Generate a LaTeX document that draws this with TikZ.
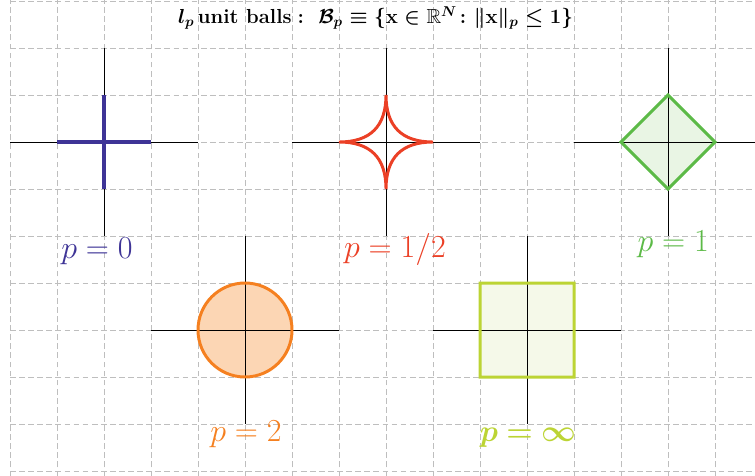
\RequirePackage{fix-cm}
\documentclass[tikz,border=0pt]{standalone}
\usepackage{amsmath,amssymb,bm}
\definecolor{czero}{RGB}{62,52,150}
\definecolor{chalf}{RGB}{235,64,38}
\definecolor{cone}{RGB}{92,186,71}
\definecolor{conefill}{RGB}{233,245,228}
\definecolor{ctwo}{RGB}{245,128,32}
\definecolor{ctwofill}{RGB}{252,214,180}
\definecolor{cinf}{RGB}{188,212,52}
\definecolor{cinffill}{RGB}{245,249,233}
\definecolor{gridgray}{RGB}{190,190,190}
\newsavebox{\ttlbox}
\begin{document}
\sbox{\ttlbox}{\fontsize{12.3}{15}\selectfont\boldmath$l_p$\,\textbf{unit balls}\,$\colon$ $\mathcal{B}_p \equiv \{\mathbf{x}\in\mathbb{R}^N\colon \Vert\mathbf{x}\Vert_p\le 1\}$}%
\begin{tikzpicture}[
  gridline/.style={draw=gridgray,line width=0.5pt,dash pattern=on 3.5pt off 2pt},
  axisline/.style={draw=black,line width=0.55pt},
  ballline/.style={line width=1.8pt,line join=miter},
  plabel/.style={anchor=base,font=\fontsize{19.4}{22}\selectfont,inner sep=0pt}
]
\def\hw{0.0318}
\useasboundingbox (-2.2128,-7.085) rectangle (13.851,3.0213);
\clip (-2.2128,-7.085) rectangle (13.851,3.0213);
\draw[gridline] (-2,-7.5) grid (14.5,3.5);

% p = 1/2
\begin{scope}[shift={(6,0)}]
\draw[axisline] (-2,0) -- (2,0);
\draw[axisline] (0,-2) -- (0,2);
\draw[ballline,chalf] (1,0) .. controls (1/3,0) and (0,1/3) .. (0,1)
  .. controls (0,1/3) and (-1/3,0) .. (-1,0)
  .. controls (-1/3,0) and (0,-1/3) .. (0,-1)
  .. controls (0,-1/3) and (1/3,0) .. (1,0);
\end{scope}
\node[plabel,text=chalf] (lhalf) at (6.19,-2.447) {$p=1/2$};

% p = 1
\begin{scope}[shift={(12,0)}]
\fill[conefill] (1,0) -- (0,1) -- (-1,0) -- (0,-1) -- cycle;
\draw[axisline] (-2,0) -- (2,0);
\draw[axisline] (0,-2) -- (0,2);
\draw[ballline,cone] (1,0) -- (0,1) -- (-1,0) -- (0,-1) -- cycle;
\end{scope}
\node[plabel,text=cone] (lone) at (12.11,-2.32) {$p=1$};

% p = 2
\begin{scope}[shift={(3,-4)}]
\fill[ctwofill] (0,0) circle (1);
\draw[axisline] (-2,0) -- (2,0);
\draw[axisline] (0,-2) -- (0,2);
\draw[ballline,ctwo] (0,0) circle (1);
\end{scope}
\node[plabel,text=ctwo] (ltwo) at (3.02,-6.38) {$p=2$};

% p = infinity
\begin{scope}[shift={(9,-4)}]
\fill[cinffill] (-1,-1) rectangle (1,1);
\draw[axisline] (-2,0) -- (2,0);
\draw[axisline] (0,-2) -- (0,2);
\fill[cinf,even odd rule] (-1-\hw,-1-\hw) rectangle (1+\hw,1+\hw)
  (-1+\hw,-1+\hw) rectangle (1-\hw,1-\hw);
\end{scope}
\node[plabel,text=cinf,font=\fontsize{18.3}{20}\selectfont] (linf) at (9.02,-6.38) {$\boldsymbol{p=\infty}$};

% p = 0
\begin{scope}[shift={(0,0)}]
\draw[axisline] (-2,0) -- (2,0);
\draw[axisline] (0,-2) -- (0,2);
\fill[czero] (-1,-0.036) rectangle (1,0.036);
\fill[czero] (-0.036,-1) rectangle (0.036,1);
\end{scope}
\node[plabel,text=czero] (l0) at (-0.15,-2.468) {$p=0$};

% heading
\path (5.777,2.638) node[inner sep=0pt] (ttl) {\usebox{\ttlbox}};
\end{tikzpicture}
\end{document}
